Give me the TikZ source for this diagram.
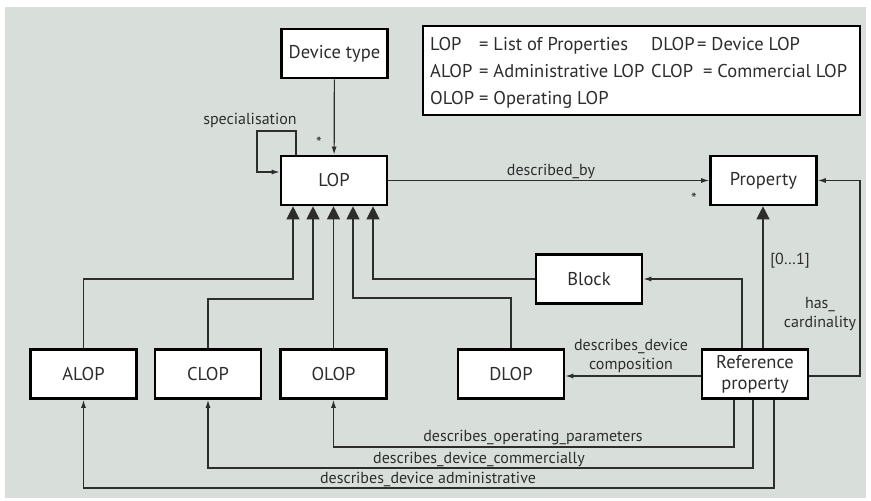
\documentclass[tikz,border=0pt]{standalone}
\usepackage{fontspec}
\setmainfont{PT Sans}
\usetikzlibrary{arrows.meta}
\definecolor{panel}{RGB}{216,223,219}
\definecolor{ln}{RGB}{45,45,45}
\begin{document}
\begin{tikzpicture}[x=1pt,y=-1pt,
 box/.style={draw=black,line width=2.6pt,fill=white,minimum width=106pt,minimum height=49pt,inner sep=0pt,font=\fontsize{18.5}{21}\selectfont,align=center,text=ln},
 conn/.style={draw=ln,line width=1.2pt},
 gen/.style={conn,-{Triangle[width=13pt,length=13pt]}},
 arr/.style={conn,-{Latex[length=8pt,width=5pt]}},
 lbl/.style={inner sep=0pt,font=\fontsize{16}{19}\selectfont,text=ln,align=center},
 leg/.style={inner sep=0pt,anchor=base west,font=\fontsize{18.5}{21}\selectfont,text=ln}]
\useasboundingbox (0,0) rectangle (871,501);
\fill[white] (0,0) rectangle (871,501);
\fill[panel] (5,7) rectangle (866,498);

% legend
\draw[black,line width=1.3pt,fill=white] (423,26) rectangle (860,115);
\node[leg] (l1a) at (430,50) {LOP};
\node[leg] (l1b) at (479,50) {= List of Properties};
\node[leg] (l1c) at (651,50) {DLOP};
\node[leg] (l1d) at (697,50) {= Device LOP};
\node[leg] (l2a) at (430,77) {ALOP};
\node[leg] (l2b) at (479,77) {= Administrative LOP};
\node[leg] (l2c) at (651,77) {CLOP};
\node[leg] (l2d) at (703,77) {= Commercial LOP};
\node[leg] (l3a) at (430,104) {OLOP};
\node[leg] (l3b) at (479,104) {= Operating LOP};

% boxes
\node[box] (DT) at (334.5,53.5) {Device type};
\node[box] (LOP) at (334,180.5) {LOP};
\node[box] (Prop) at (763.5,180.5) {Property};
\node[box] (Block) at (589,279) {Block};
\node[box] (ALOP) at (83.5,374) {ALOP};
\node[box] (CLOP) at (208,374) {CLOP};
\node[box] (OLOP) at (333.5,374) {OLOP};
\node[box] (DLOP) at (511,374) {DLOP};
\node[box] (RP) at (755,374) {Reference\\property};

% top connectors
\draw[arr] (DT) -- (LOP);
\coordinate (s1) at (296,131);
\coordinate (s2) at (257,172);
\draw[arr] (s1 |- LOP.north) -- (s1) -| (s2) -- (s2 -| LOP.west);
\draw[arr] (LOP.east) -- (Prop.west);

% generalisations to LOP
\coordinate (g1) at (293,279);
\draw[gen] (ALOP.north) |- (g1) -- (g1 |- LOP.south);
\coordinate (g2) at (313,299);
\draw[gen] (CLOP.north) |- (g2) -- (g2 |- LOP.south);
\draw[gen] (OLOP.north) -- (OLOP.north |- LOP.south);
\coordinate (g4) at (353,298);
\draw[gen] (DLOP.north) |- (g4) -- (g4 |- LOP.south);
\coordinate (g5) at (373,279);
\draw[gen] (Block.west) -- (g5) -- (g5 |- LOP.south);

% reference property
\coordinate (b1) at (742,279);
\draw[arr] (b1 |- RP.north) -- (b1) -- (Block.east);
\coordinate (p1) at (763,300);
\draw[gen] (p1 |- RP.north) -- (p1 |- Prop.south);
\coordinate (h1) at (860,376);
\draw[arr] (RP.east |- h1) -- (h1) |- (Prop.east);
\coordinate (d1) at (600,376);
\draw[arr] (RP.west |- d1) -- (DLOP.east |- d1);
\coordinate (o1) at (734,447);
\draw[arr] (o1 |- RP.south) -- (o1) -| (OLOP.south);
\coordinate (c1) at (753,468);
\draw[arr] (c1 |- RP.south) -- (c1) -| (CLOP.south);
\coordinate (a1) at (774,488);
\draw[arr] (a1 |- RP.south) -- (a1) -| (ALOP.south);

% labels
\node[lbl] (t1) at (250,120) {specialisation};
\node[lbl] (t2) at (319,143) {*};
\node[lbl] (t3) at (551,171) {described\_by};
\node[lbl] (t4) at (694,199) {*};
\node[lbl] (t5) at (790,261) {[0\ldots1]};
\node[lbl] (t6) at (820,314) {has\_\\cardinality};
\node[lbl] (t7) at (631,356) {describes\_device\\composition};
\node[lbl] (t8) at (533,438) {describes\_operating\_parameters};
\node[lbl] (t9) at (479,459) {describes\_device\_commercially};
\node[lbl] (t10) at (428,479) {describes\_device administrative};
\end{tikzpicture}
\end{document}
